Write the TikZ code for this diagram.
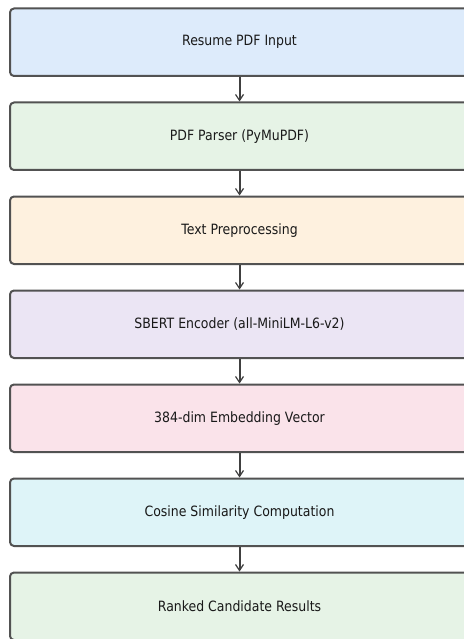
\documentclass[tikz,border=0pt]{standalone}
\usepackage{fontspec}
\setsansfont[FakeStretch=0.88]{DejaVu Sans}
\usetikzlibrary{arrows.meta}

\definecolor{inblue}{HTML}{DDEBFB}
\definecolor{parsegreen}{HTML}{E6F3E6}
\definecolor{preporange}{HTML}{FEF1DF}
\definecolor{enclilac}{HTML}{EBE5F4}
\definecolor{embpink}{HTML}{FAE3EA}
\definecolor{simcyan}{HTML}{DEF4F8}
\definecolor{rankgreen}{HTML}{E6F3E6}

\begin{document}
\begin{tikzpicture}[
  x=1pt, y=-1pt,
  every node/.style={font=\sffamily\fontsize{14.2}{16}\selectfont},
  stage/.style={
    rectangle, rounded corners=4pt,
    draw=black!68, line width=2pt,
    minimum width=459pt, minimum height=67.5pt,
    align=center, text=black!90},
  arr/.style={
    -{Straight Barb[length=6pt,width=8pt,line width=1.2pt]},
    draw=black!75, line width=2pt},
]
\useasboundingbox (0,0) rectangle (463,639);

\node[stage, fill=inblue]     (input)  at (239.5, 42.25)  {Resume PDF Input};
\node[stage, fill=parsegreen] (parser) at (239.5, 136.25) {PDF Parser (PyMuPDF)};
\node[stage, fill=preporange] (prep)   at (239.5, 230.25) {Text Preprocessing};
\node[stage, fill=enclilac]   (sbert)  at (239.5, 324.25) {SBERT Encoder (all-MiniLM-L6-v2)};
\node[stage, fill=embpink]    (embed)  at (239.5, 418.25) {384-dim Embedding Vector};
\node[stage, fill=simcyan]    (cosine) at (239.5, 512.25) {Cosine Similarity Computation};
\node[stage, fill=rankgreen]  (rank)   at (239.5, 606.25) {Ranked Candidate Results};

\draw[arr] (input.south)  -- (parser.north);
\draw[arr] (parser.south) -- (prep.north);
\draw[arr] (prep.south)   -- (sbert.north);
\draw[arr] (sbert.south)  -- (embed.north);
\draw[arr] (embed.south)  -- (cosine.north);
\draw[arr] (cosine.south) -- (rank.north);

\end{tikzpicture}
\end{document}
